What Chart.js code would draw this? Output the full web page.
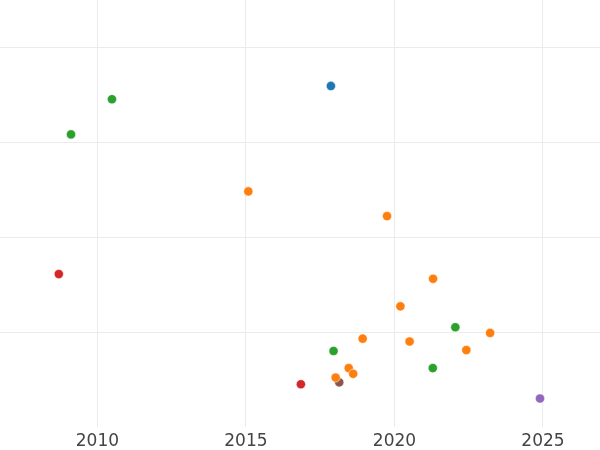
<!DOCTYPE html>
<html>
<head>
<meta charset="utf-8">
<script src="https://cdn.jsdelivr.net/npm/chart.js@4/dist/chart.umd.min.js"></script>
<style>
  html, body { margin: 0; padding: 0; background: #fff; }
  #wrap { width: 600px; height: 450px; }
</style>
</head>
<body>
<div id="wrap"><canvas id="chart"></canvas></div>
<script>
// year vs value, grouped by colour
const blueYears = [2017.86];
const blueValues = [3.59];

const orangeYears = [2015.08, 2019.75, 2021.30, 2020.20, 2023.22, 2018.93, 2020.51, 2022.42, 2018.46, 2018.61, 2018.02];
const orangeValues = [2.48, 2.22, 1.56, 1.27, 0.99, 0.93, 0.90, 0.81, 0.62, 0.56, 0.52];

const greenYears = [2010.49, 2009.11, 2022.05, 2017.95, 2021.29];
const greenValues = [3.45, 3.08, 1.05, 0.80, 0.62];

const redYears = [2008.70, 2016.85];
const redValues = [1.61, 0.45];

const purpleYears = [2024.90];
const purpleValues = [0.30];

const brownYears = [2018.14];
const brownValues = [0.47];

const xTicks = [2010, 2015, 2020, 2025];

function points(xs, ys) {
  return xs.map((x, i) => ({ x: x, y: ys[i] }));
}

function series(label, xs, ys, color) {
  return {
    label: label,
    data: points(xs, ys),
    backgroundColor: color,
    borderColor: '#ffffff',
    borderWidth: 0.5,
    pointRadius: 4.6,
    pointHoverRadius: 4.6,
  };
}

new Chart(document.getElementById('chart'), {
  type: 'scatter',
  data: {
    datasets: [
      series('blue', blueYears, blueValues, '#1f77b4'),
      series('orange', orangeYears, orangeValues, '#ff7f0e'),
      series('green', greenYears, greenValues, '#2ca02c'),
      series('red', redYears, redValues, '#d62728'),
      series('purple', purpleYears, purpleValues, '#9467bd'),
      series('brown', brownYears, brownValues, '#8c564b'),
    ],
  },
  options: {
    responsive: true,
    maintainAspectRatio: false,
    animation: false,
    layout: { padding: 0, autoPadding: false },
    plugins: {
      legend: { display: false },
      tooltip: { enabled: false },
    },
    scales: {
      x: {
        type: 'linear',
        min: 2006.72,
        max: 2026.92,
        afterBuildTicks: axis => { axis.ticks = xTicks.map(v => ({ value: v })); },
        afterFit: axis => { axis.height = 23; },
        ticks: {
          includeBounds: false,
          padding: 4.5,
          color: '#444444',
          font: { family: 'DejaVu Sans', size: 17 },
          callback: v => String(v),
        },
        grid: { color: '#ebebeb', lineWidth: 1, drawTicks: false },
        border: { display: false },
      },
      y: {
        min: 0,
        max: 4.495,
        ticks: { display: false, stepSize: 1, includeBounds: false },
        grid: {
          color: ctx => (ctx.tick && ctx.tick.value === 0 ? 'rgba(0,0,0,0)' : '#ebebeb'),
          lineWidth: 1,
          drawTicks: false,
        },
        border: { display: false },
      },
    },
  },
});
</script>
</body>
</html>
